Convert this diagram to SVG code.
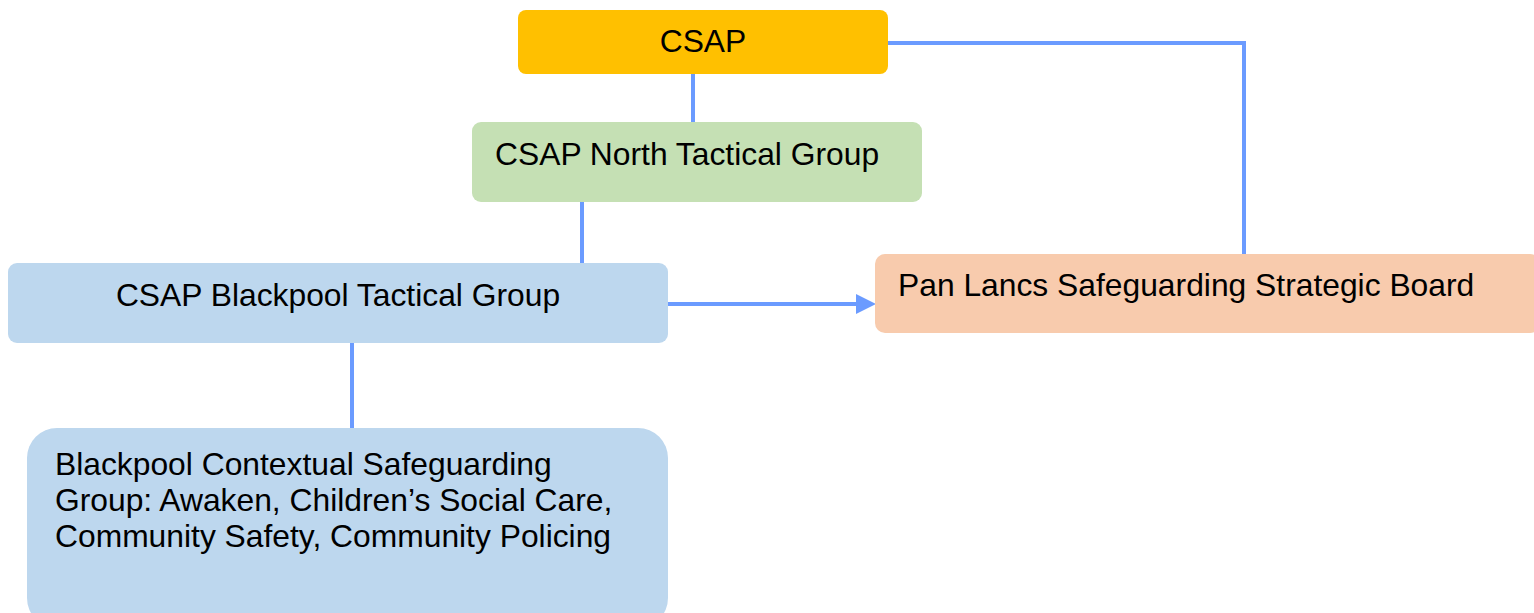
<svg xmlns="http://www.w3.org/2000/svg" width="1534" height="613" viewBox="0 0 1534 613">
<style>
text{font-family:"Liberation Sans",Arial,sans-serif;font-size:31.8px;fill:#000}
.c{fill:none;stroke:#6B9BFF;stroke-width:4}
</style>
<defs>
<marker id="ah" markerWidth="5" markerHeight="5" refX="4" refY="2.5" orient="auto" markerUnits="strokeWidth">
<path d="M0,0 L5,2.5 L0,5 Z" fill="#6B9BFF"/>
</marker>
</defs>
<g id="connectors">
<path class="c" d="M693,74 V122"/>
<path class="c" d="M582,202 V270"/>
<path class="c" d="M888,43 H1244 V254"/>
<path class="c" d="M352,343 V428"/>
<path class="c" d="M668,304 H872" marker-end="url(#ah)"/>
</g>
<g id="csap">
<rect x="518" y="10" width="370" height="64" rx="8" fill="#FFC000"/>
<text x="703" y="52" text-anchor="middle">CSAP</text>
</g>
<g id="north">
<rect x="472" y="122" width="450" height="80" rx="9" fill="#C5E0B4"/>
<text x="495" y="165">CSAP North Tactical Group</text>
</g>
<g id="blackpool">
<rect x="8" y="263" width="660" height="80" rx="9" fill="#BDD7EE"/>
<text x="338" y="306" text-anchor="middle">CSAP Blackpool Tactical Group</text>
</g>
<g id="panlancs">
<rect x="875" y="254" width="665" height="79" rx="10" fill="#F8CBAD"/>
<text x="898" y="296">Pan Lancs Safeguarding Strategic Board</text>
</g>
<g id="contextual">
<rect x="27" y="428" width="641" height="200" rx="30" fill="#BDD7EE"/>
<text x="55" y="475">Blackpool Contextual Safeguarding</text>
<text x="55" y="511">Group: Awaken, Children’s Social Care,</text>
<text x="55" y="547">Community Safety, Community Policing</text>
</g>
</svg>
